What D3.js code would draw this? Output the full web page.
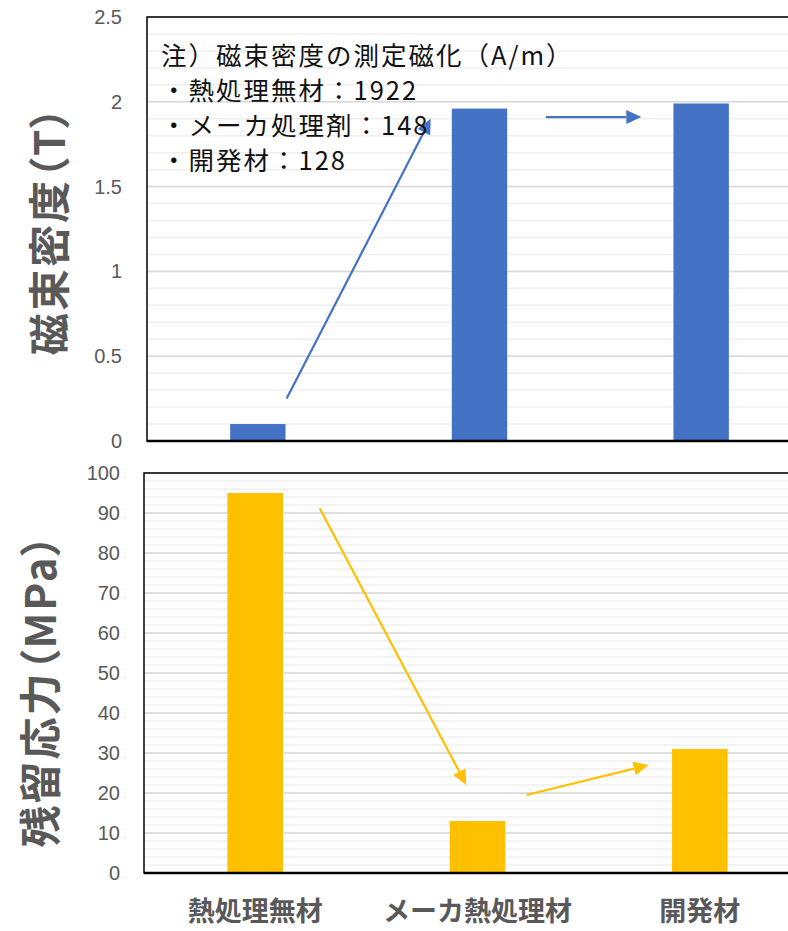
<!DOCTYPE html>
<html>
<head>
<meta charset="utf-8">
<title>chart</title>
<script src="https://d3js.org/d3.v7.min.js"></script>
<style>
  body { margin: 0; background: #fff; }
  svg text { font-family: "Noto Sans CJK JP", "Noto Sans", sans-serif; }
</style>
</head>
<body>
<div id="chart"></div>
<script>
// data
var categories = ["熱処理無材", "メーカ熱処理材", "開発材"];
var fluxValues = [0.1, 1.96, 1.99];
var stressValues = [95, 13, 31];
var fluxTicks = [0, 0.5, 1, 1.5, 2, 2.5];
var stressTicks = [0, 10, 20, 30, 40, 50, 60, 70, 80, 90, 100];
var noteLines = ["注）磁束密度の測定磁化（A/m）", "・熱処理無材：1922", "・メーカ処理剤：148", "・開発材：128"];
// arrows: [from index, from value, to index, to value]
var fluxArrows = [[0.13, 0.25, 0.78, 1.9], [1.3, 1.91, 1.73, 1.91]];
var stressArrows = [[0.29, 91.2, 0.95, 22], [1.22, 19.5, 1.77, 27]];

var W = 788, H = 931;
var svg = d3.select("#chart").append("svg").attr("width", W).attr("height", H);

var grey = "#595959";

function panel(opt) {
  var g = svg.append("g");
  var x = d3.scaleBand().domain(opt.cats).range([opt.left, opt.right]).paddingInner(0.75).paddingOuter(0.375);
  var xi = d3.scaleLinear().domain([-0.5, opt.cats.length - 0.5]).range([opt.left, opt.right]);
  var y = d3.scaleLinear().domain([0, opt.max]).range([opt.bottom, opt.top]);

  // minor gridlines
  g.append("g").selectAll("line").data(d3.range(0, opt.max + 1e-9, opt.minor)).join("line")
    .attr("x1", opt.left).attr("x2", opt.right)
    .attr("y1", d => y(d)).attr("y2", d => y(d))
    .attr("stroke", "#efefef").attr("stroke-width", 1.5);
  // major gridlines
  g.append("g").selectAll("line").data(opt.ticks).join("line")
    .attr("x1", opt.left).attr("x2", opt.right)
    .attr("y1", d => y(d)).attr("y2", d => y(d))
    .attr("stroke", "#d9d9d9").attr("stroke-width", 1.5);

  // bars
  g.append("g").selectAll("rect").data(opt.values).join("rect")
    .attr("x", (d, i) => x(opt.cats[i]))
    .attr("width", x.bandwidth())
    .attr("y", d => y(d))
    .attr("height", d => y(0) - y(d))
    .attr("fill", opt.color);

  // frame
  g.append("path")
    .attr("d", "M" + opt.right + "," + opt.top + "H" + opt.left + "V" + opt.bottom + "H" + opt.right)
    .attr("fill", "none").attr("stroke", "#000").attr("stroke-width", 1.5);
  g.append("line").attr("x1", opt.left).attr("x2", opt.right)
    .attr("y1", opt.bottom).attr("y2", opt.bottom)
    .attr("stroke", "#000").attr("stroke-width", 2.5);

  // tick labels
  g.append("g").selectAll("text").data(opt.ticks).join("text")
    .attr("x", opt.left - opt.tickPad).attr("y", d => y(d)).attr("dy", "0.35em")
    .attr("text-anchor", "end").attr("fill", grey).attr("font-size", 20)
    .style("font-family", "'Liberation Sans', 'Open Sans', sans-serif")
    .text(d => d);

  // y title
  g.append("text")
    .attr("transform", "translate(" + opt.titleX + "," + opt.titleY + ") rotate(-90)")
    .attr("text-anchor", "middle").attr("dy", "0.35em")
    .attr("fill", grey).attr("font-size", 42).attr("font-weight", "bold")
    .attr("letter-spacing", 2)
    .style("font-feature-settings", "'palt'")
    .text(opt.title);

  // arrows
  var ag = g.append("g");
  opt.arrows.forEach(function (a) {
    var x1 = xi(a[0]), y1 = y(a[1]), x2 = xi(a[2]), y2 = y(a[3]);
    var ang = Math.atan2(y2 - y1, x2 - x1);
    var L = 15, hw = 7;
    var bx = x2 - L * Math.cos(ang), by = y2 - L * Math.sin(ang);
    ag.append("line").attr("x1", x1).attr("y1", y1).attr("x2", bx).attr("y2", by)
      .attr("stroke", opt.color).attr("stroke-width", 2.2);
    var px = -Math.sin(ang) * hw, py = Math.cos(ang) * hw;
    ag.append("path")
      .attr("d", "M" + x2 + "," + y2 + "L" + (bx + px) + "," + (by + py) + "L" + (bx - px) + "," + (by - py) + "Z")
      .attr("fill", opt.color);
  });
  return { x: x, y: y, g: g };
}

var fluxPanel = panel({
  cats: categories, values: fluxValues, ticks: fluxTicks, max: 2.5, minor: 0.1,
  left: 147, right: 812, top: 17, bottom: 441, color: "#4472C4", tickPad: 25,
  title: "磁束密度（T）", titleX: 50, titleY: 230, arrows: fluxArrows
});

var stressPanel = panel({
  cats: categories, values: stressValues, ticks: stressTicks, max: 100, minor: 2,
  left: 144, right: 811, top: 473, bottom: 873, color: "#FFC000", tickPad: 24,
  title: "残留応力（MPa）", titleX: 41, titleY: 690, arrows: stressArrows
});

// note text in top panel
fluxPanel.g.append("g").selectAll("text").data(noteLines).join("text")
  .attr("x", 161)
  .attr("y", (d, i) => 65 + i * 35)
  .attr("fill", "#111").attr("font-size", 25.5)
  .attr("letter-spacing", 2)
  .text(d => d);

// category labels
svg.append("g").selectAll("text").data(categories).join("text")
  .attr("x", d => stressPanel.x(d) + stressPanel.x.bandwidth() / 2)
  .attr("y", 921)
  .attr("text-anchor", "middle").attr("fill", grey)
  .attr("font-size", 27).attr("font-weight", "bold")
  .text(d => d);
</script>
</body>
</html>
